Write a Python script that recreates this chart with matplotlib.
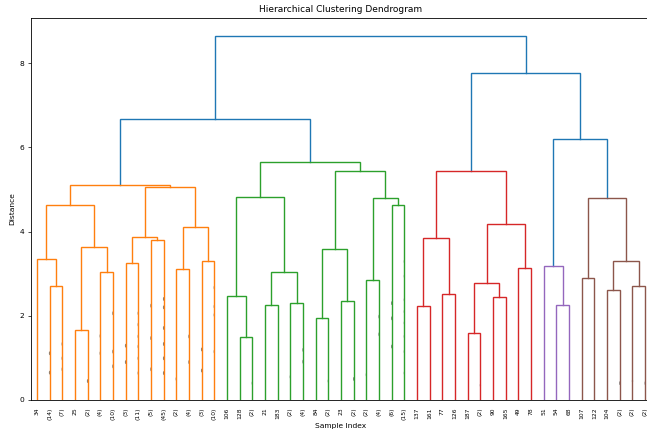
import matplotlib
matplotlib.use("Agg")
import matplotlib.pyplot as plt
from matplotlib.patches import Ellipse
from matplotlib.collections import LineCollection

# ---- data -------------------------------------------------------------
leaf_labels = ["34", "(14)", "(7)", "25", "(2)", "(4)", "(10)", "(3)", "(11)", "(5)",
               "(45)", "(2)", "(4)", "(3)", "(10)", "106", "128", "(2)", "21", "183",
               "(2)", "(4)", "84", "(2)", "23", "(2)", "(2)", "(4)", "(6)", "(15)",
               "137", "161", "77", "126", "187", "(2)", "90", "165", "49", "78",
               "51", "54", "68", "107", "122", "104", "(2)", "(2)", "(2)"]

# linkage rows (node id = 49 + row index): left child, right child, height
link_left = [1, 0, 3, 5, 51, 50, 7, 9, 55, 11, 13, 58, 57, 54,
             16, 15, 18, 20, 65, 64, 22, 24, 69, 26, 28, 72, 71, 68,
             30, 32, 77, 34, 36, 80, 38, 82, 79,
             41, 40, 43, 45, 47, 89, 88, 87, 85, 62, 95]
link_right = [2, 49, 4, 6, 52, 53, 8, 10, 56, 12, 14, 59, 60, 61,
              17, 63, 19, 21, 66, 67, 23, 25, 70, 27, 29, 73, 74, 75,
              31, 33, 78, 35, 37, 81, 39, 83, 84,
              42, 86, 44, 46, 48, 90, 91, 92, 93, 76, 94]
link_height = [2.70, 3.35, 1.67, 3.03, 3.63, 4.64, 3.25, 3.80, 3.86, 3.12, 3.29, 4.12, 5.07, 5.10,
               1.50, 2.48, 2.26, 2.30, 3.04, 4.82, 1.94, 2.34, 3.59, 2.85, 4.63, 4.79, 5.44, 5.66,
               2.24, 2.52, 3.85, 1.60, 2.44, 2.78, 3.13, 4.18, 5.44,
               2.25, 3.18, 2.90, 2.62, 2.71, 3.31, 4.79, 6.21, 7.76, 6.67, 8.64]

# contraction marks (heights of merges hidden inside truncated leaves)
contracted = {
    1: [1.11, 0.65], 2: [1.33, 0.99, 0.73], 4: [0.45], 5: [1.52, 1.11],
    6: [2.06, 1.15, 0.80], 7: [1.29, 0.90], 8: [2.06, 1.79, 1.51, 1.27, 0.99, 0.64],
    9: [2.24, 1.47, 0.73], 10: [2.40, 2.20, 1.71, 1.33, 0.99, 0.64],
    11: [0.50], 12: [1.51, 0.90], 13: [1.20, 0.70], 14: [2.67, 2.22, 2.02, 1.15],
    17: [0.40], 20: [0.55], 21: [1.19, 0.91], 23: [0.45], 25: [0.50], 26: [0.60],
    27: [1.98, 1.56], 28: [2.30, 1.94, 1.27],
    29: [3.29, 2.94, 2.38, 2.10, 1.83, 1.51, 1.15, 0.64],
    35: [0.35], 46: [0.40], 47: [0.45], 48: [0.40],
}

palette = ["#ff7f0e", "#2ca02c", "#d62728", "#9467bd", "#8c564b",
           "#e377c2", "#7f7f7f", "#bcbd22", "#17becf"]
above_color = "#1f77b4"

# ---- layout of the tree ----------------------------------------------
n_leaves = len(leaf_labels)
root = n_leaves + len(link_height) - 1
threshold = 0.7 * max(link_height)

pos = {i: 5.0 + 10.0 * i for i in range(n_leaves)}
hgt = {i: 0.0 for i in range(n_leaves)}


def place(node):
    if node < n_leaves:
        return pos[node]
    k = node - n_leaves
    xl = place(link_left[k])
    xr = place(link_right[k])
    pos[node] = 0.5 * (xl + xr)
    hgt[node] = link_height[k]
    return pos[node]


place(root)

segments, colors = [], []
pal_idx = [0]


def draw(node, color):
    if node < n_leaves:
        return
    k = node - n_leaves
    if color is None and link_height[k] < threshold:
        color = palette[pal_idx[0] % len(palette)]
        pal_idx[0] += 1
    l, r = link_left[k], link_right[k]
    h = link_height[k]
    segments.append([(pos[l], hgt[l]), (pos[l], h), (pos[r], h), (pos[r], hgt[r])])
    colors.append(color if color is not None else above_color)
    draw(l, color)
    draw(r, color)


draw(root, None)

# ---- figure ------------------------------------------------------------
fig = plt.figure(figsize=(6.47, 4.30), dpi=100)
ax = fig.add_axes([30.5 / 647, 30 / 430, 621 / 647, 382 / 430])

for seg, c in zip(segments, colors):
    xs = [p[0] for p in seg]
    ys = [p[1] for p in seg]
    ax.plot(xs, ys, color=c, lw=1.0, solid_joinstyle="miter")

ytop = max(link_height) * 1.05
ax.set_xlim(0, 10 * n_leaves)
ax.set_ylim(0, ytop)

for leaf, hs in contracted.items():
    for h in hs:
        e = Ellipse((pos[leaf], h), width=1.0, height=ytop / 100)
        ax.add_artist(e)
        e.set_alpha(0.5)
        e.set_facecolor("k")

ax.set_xticks([pos[i] for i in range(n_leaves)])
ax.set_xticklabels(leaf_labels, rotation=90, fontsize=4.3)
for line in ax.get_xticklines():
    line.set_visible(False)
ax.tick_params(axis="x", pad=2)
ax.set_yticks([0, 2, 4, 6, 8])
ax.tick_params(axis="y", labelsize=5.4, length=2.5, width=0.5, pad=2)
for s in ax.spines.values():
    s.set_linewidth(0.6)

ax.set_title("Hierarchical Clustering Dendrogram", fontsize=6.5, pad=4)
ax.set_xlabel("Sample Index", fontsize=5.4, labelpad=2)
ax.set_ylabel("Distance", fontsize=5.4, labelpad=3)

fig.savefig("out.png", dpi=100)
